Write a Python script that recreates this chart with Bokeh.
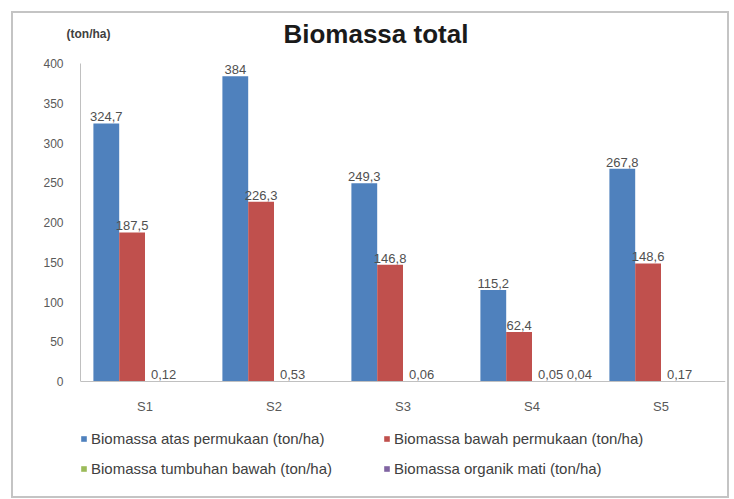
from bokeh.plotting import figure
from bokeh.models import (ColumnDataSource, FactorRange, Range1d, Legend, LegendItem, Label,
                          LinearAxis, FixedTicker)
from bokeh.transform import dodge
from bokeh.core.properties import value
from bokeh.embed import file_html
from bokeh.resources import INLINE

sites = ["S1", "S2", "S3", "S4", "S5"]
atas = [324.7, 384, 249.3, 115.2, 267.8]
bawah = [187.5, 226.3, 146.8, 62.4, 148.6]
tumbuhan = [0.12, 0.53, 0.06, 0.05, 0.17]
organik = [None, None, None, 0.04, None]
series_names = [
    "Biomassa atas permukaan (ton/ha)",
    "Biomassa bawah permukaan (ton/ha)",
    "Biomassa tumbuhan bawah (ton/ha)",
    "Biomassa organik mati (ton/ha)",
]
colors = ["#4F81BD", "#C0504D", "#9BBB59", "#8064A2"]
y_ticks = [0, 50, 100, 150, 200, 250, 300, 350, 400]
title_text = "Biomassa total"
unit_text = "(ton/ha)"

FONT = "Liberation Sans"
Y_MAX = 400
UNIT_POS = 437

p = figure(
    x_range=FactorRange(factors=sites, range_padding=0),
    y_range=Range1d(-144.7, 463),
    frame_width=645, frame_height=483,
    output_backend="svg", toolbar_location=None,
    min_border_left=67, min_border_right=2, min_border_top=0, min_border_bottom=0,
)
p.styles = {"border": "2px solid #c4c4c4", "margin-left": "11px", "margin-top": "11px"}
p.outline_line_color = None
p.xgrid.grid_line_color = None
p.ygrid.grid_line_color = None
p.background_fill_color = "white"
p.border_fill_color = "white"

offsets = [-0.3, -0.1, 0.1, 0.3]
label_aligns = ["center", "center", "left", "left"]
label_shifts = [0, 0, -7, -4]
all_series = [atas, bawah, tumbuhan, organik]
renderers = []


def fmt(v):
    if float(v).is_integer():
        return str(int(v))
    return str(v).replace(".", ",")


for vals, off, col, al, sh in zip(all_series, offsets, colors, label_aligns, label_shifts):
    tops = [float("nan") if v is None else v for v in vals]
    src = ColumnDataSource(dict(site=sites, top=tops))
    r = p.vbar(x=dodge("site", off, range=p.x_range), top="top", width=0.2,
               source=src, fill_color=col, line_color=None)
    renderers.append(r)
    ls = [s for s, v in zip(sites, vals) if v is not None]
    lv = [v for v in vals if v is not None]
    lsrc = ColumnDataSource(dict(site=ls, val=lv, txt=[fmt(v) for v in lv]))
    p.text(x=dodge("site", off, range=p.x_range), y="val", text="txt", source=lsrc,
           text_align=al, text_baseline="bottom", y_offset=-2, x_offset=sh,
           text_font=value(FONT), text_font_size="13px", text_color="#505050")

p.yaxis.ticker = y_ticks
p.yaxis.bounds = (0, Y_MAX)
p.yaxis.major_tick_line_color = None
p.yaxis.major_tick_out = 0
p.yaxis.minor_tick_line_color = None
p.yaxis.axis_line_color = "#c0c0c0"
p.yaxis.major_label_standoff = 17
p.yaxis.major_label_text_font = FONT
p.yaxis.major_label_text_font_size = "12px"
p.yaxis.major_label_text_color = "#595959"

p.xaxis.fixed_location = 0
p.xaxis.major_tick_line_color = None
p.xaxis.major_tick_out = 0
p.xaxis.axis_line_color = "#c0c0c0"
p.xaxis.major_label_standoff = 18
p.xaxis.major_label_text_font = FONT
p.xaxis.major_label_text_font_size = "13px"
p.xaxis.major_label_text_color = "#595959"

unit_axis = LinearAxis(
    ticker=FixedTicker(ticks=[UNIT_POS]),
    major_label_overrides={UNIT_POS: unit_text},
    axis_line_color=None, major_tick_line_color=None, minor_tick_line_color=None,
    major_tick_out=0, major_tick_in=0,
    major_label_standoff=-70,
    major_label_text_font=FONT, major_label_text_font_size="12px",
    major_label_text_font_style="bold", major_label_text_color="#404040",
)
p.add_layout(unit_axis, "left")

p.add_layout(Label(x=2.29, y=437, text=title_text, text_align="center", text_baseline="middle",
                   text_font=FONT, text_font_size="26px", text_font_style="bold",
                   text_color="#1a1a1a"))

legend = Legend(
    items=[LegendItem(label=n, renderers=[r]) for n, r in zip(series_names, renderers)],
    orientation="horizontal", ncols=2,
    location=(0, 18),
    glyph_width=7, glyph_height=7, label_standoff=4,
    label_width=282, label_height=20, spacing=10,
    padding=0, margin=0,
    border_line_color=None, background_fill_alpha=0,
    label_text_font=FONT, label_text_font_size="15px", label_text_color="#404040",
)
p.add_layout(legend, "center")

open("out.html", "w").write(file_html(p, INLINE))
